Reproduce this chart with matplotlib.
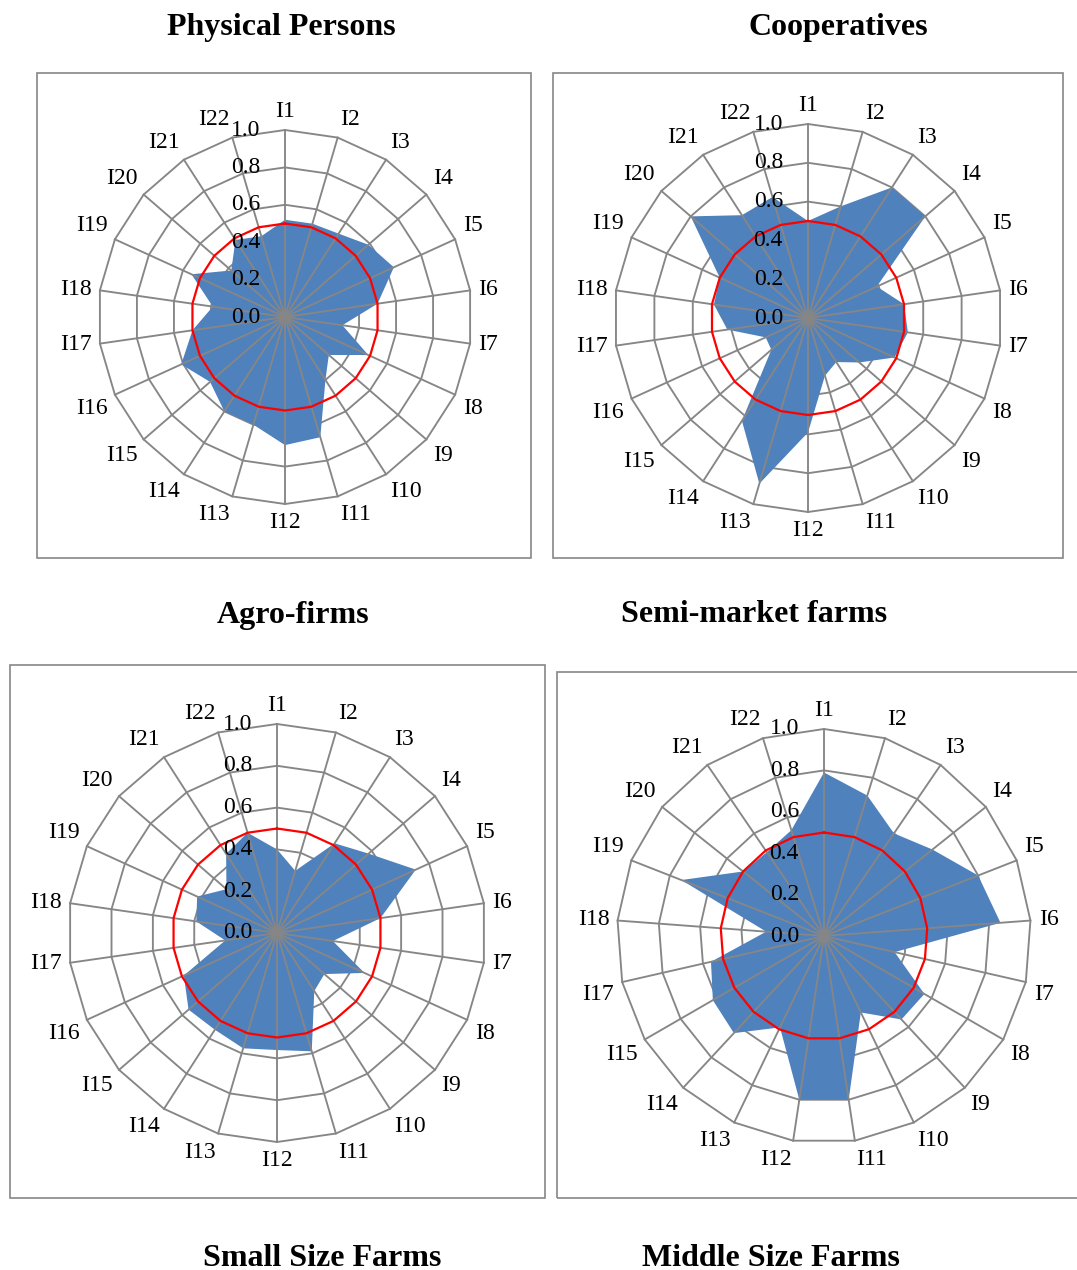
import numpy as np
import matplotlib
matplotlib.use("Agg")
import matplotlib.pyplot as plt
from matplotlib.patches import Rectangle

# ---------------- data ----------------
labels22 = ["I%d" % i for i in range(1, 23)]
labels21 = [l for l in labels22 if l != "I16"]
ticks = [0.0, 0.2, 0.4, 0.6, 0.8, 1.0]
threshold = 0.5

physical_persons = [0.52, 0.52, 0.53, 0.59, 0.64, 0.50, 0.31, 0.49, 0.31, 0.40, 0.67,
                    0.685, 0.60, 0.60, 0.53, 0.61, 0.50, 0.39, 0.55, 0.38, 0.49, 0.45]
cooperatives = [0.50, 0.60, 0.80, 0.80, 0.39, 0.50, 0.52, 0.49, 0.35, 0.27, 0.31,
                0.59, 0.89, 0.63, 0.25, 0.24, 0.42, 0.49, 0.50, 0.80, 0.63, 0.65]
small_size = [0.40, 0.31, 0.51, 0.58, 0.73, 0.50, 0.27, 0.46, 0.30, 0.33, 0.59,
              0.56, 0.575, 0.55, 0.56, 0.49, 0.25, 0.39, 0.42, 0.32, 0.45, 0.50]
middle_size = [0.79, 0.71, 0.60, 0.67, 0.80, 0.855, 0.35, 0.56, 0.55, 0.41, 0.80,
               0.80, 0.49, 0.64, 0.62, 0.56, 0.28, 0.74, 0.50, 0.49, 0.535]

titles = ["Physical Persons", "Cooperatives", "Agro-firms", "Semi-market farms",
          "Small Size Farms", "Middle Size Farms"]

# ---------------- style ----------------
W, H = 1077, 1270
FONT = "Liberation Serif"
GRAY = "#868686"
BLUE = "#4F81BD"
RED = "#FF0000"

fig = plt.figure(figsize=(W / 100, H / 100), dpi=100)
fig.patch.set_facecolor("white")


def px_rect(x0, y0, x1, y1):
    return Rectangle((x0 / W, 1 - y1 / H), (x1 - x0) / W, (y1 - y0) / H,
                     transform=fig.transFigure, fill=False, edgecolor=GRAY,
                     linewidth=1.2, zorder=0)


# boxes around charts
for (x0, y0, x1, y1) in [(37, 73, 531, 558), (553, 73, 1063, 558),
                         (10, 665, 545, 1198), (557, 672, 1085, 1198)]:
    fig.patches.append(px_rect(x0, y0, x1, y1))


def radar(cx, cy, R, labels, values):
    ax = fig.add_axes([(cx - R) / W, 1 - (cy + R) / H, 2 * R / W, 2 * R / H],
                      projection="polar")
    ax.set_theta_zero_location("N")
    ax.set_theta_direction(-1)
    ax.set_ylim(0, 1)
    ax.set_axis_off()
    n = len(labels)
    theta = np.arange(n) * 2 * np.pi / n
    th_c = np.append(theta, theta[0])
    # rings
    for r in ticks[1:]:
        ax.plot(th_c, np.full(n + 1, r), color=GRAY, lw=1.35, zorder=1, clip_on=False)
    # data fill
    v = np.append(values, values[0])
    ax.fill(th_c, v, color=BLUE, lw=0, zorder=2)
    # spokes
    for t in theta:
        ax.plot([t, t], [0, 1], color=GRAY, lw=1.35, zorder=3, clip_on=False)
    # threshold
    ax.plot(th_c, np.full(n + 1, threshold), color=RED, lw=1.6, zorder=4, clip_on=False)
    # tick labels
    for r in ticks:
        ax.annotate("%.1f" % r, xy=(0, r), xytext=(-18, 0), textcoords="offset points",
                    ha="right", va="center", fontsize=17, family=FONT, zorder=5,
                    annotation_clip=False)
    # category labels
    d = 6
    for t, lab in zip(theta, labels):
        s, c = np.sin(t), np.cos(t)
        ha = "center" if abs(s) < 0.1 else ("left" if s > 0 else "right")
        va = "center" if abs(c) < 0.2 else ("bottom" if c > 0 else "top")
        ax.annotate(lab, xy=(t, 1.0), xytext=(d * s, d * c), textcoords="offset points",
                    ha=ha, va=va, fontsize=17, family=FONT, annotation_clip=False)
    return ax


radar(285, 317, 187, labels22, physical_persons)
radar(808, 318, 194, labels22, cooperatives)
radar(277, 933, 209, labels22, small_size)
radar(824, 936, 207, labels21, middle_size)

# titles
for txt, x, y in [(titles[0], 281, 27), (titles[1], 838, 27), (titles[2], 293, 615),
                  (titles[3], 754, 615), (titles[4], 322, 1258), (titles[5], 771, 1258)]:
    fig.text(x / W, 1 - y / H, txt, ha="center", va="center", fontsize=23,
             fontweight="bold", family=FONT)

fig.savefig("out.png", dpi=100, facecolor="white")
